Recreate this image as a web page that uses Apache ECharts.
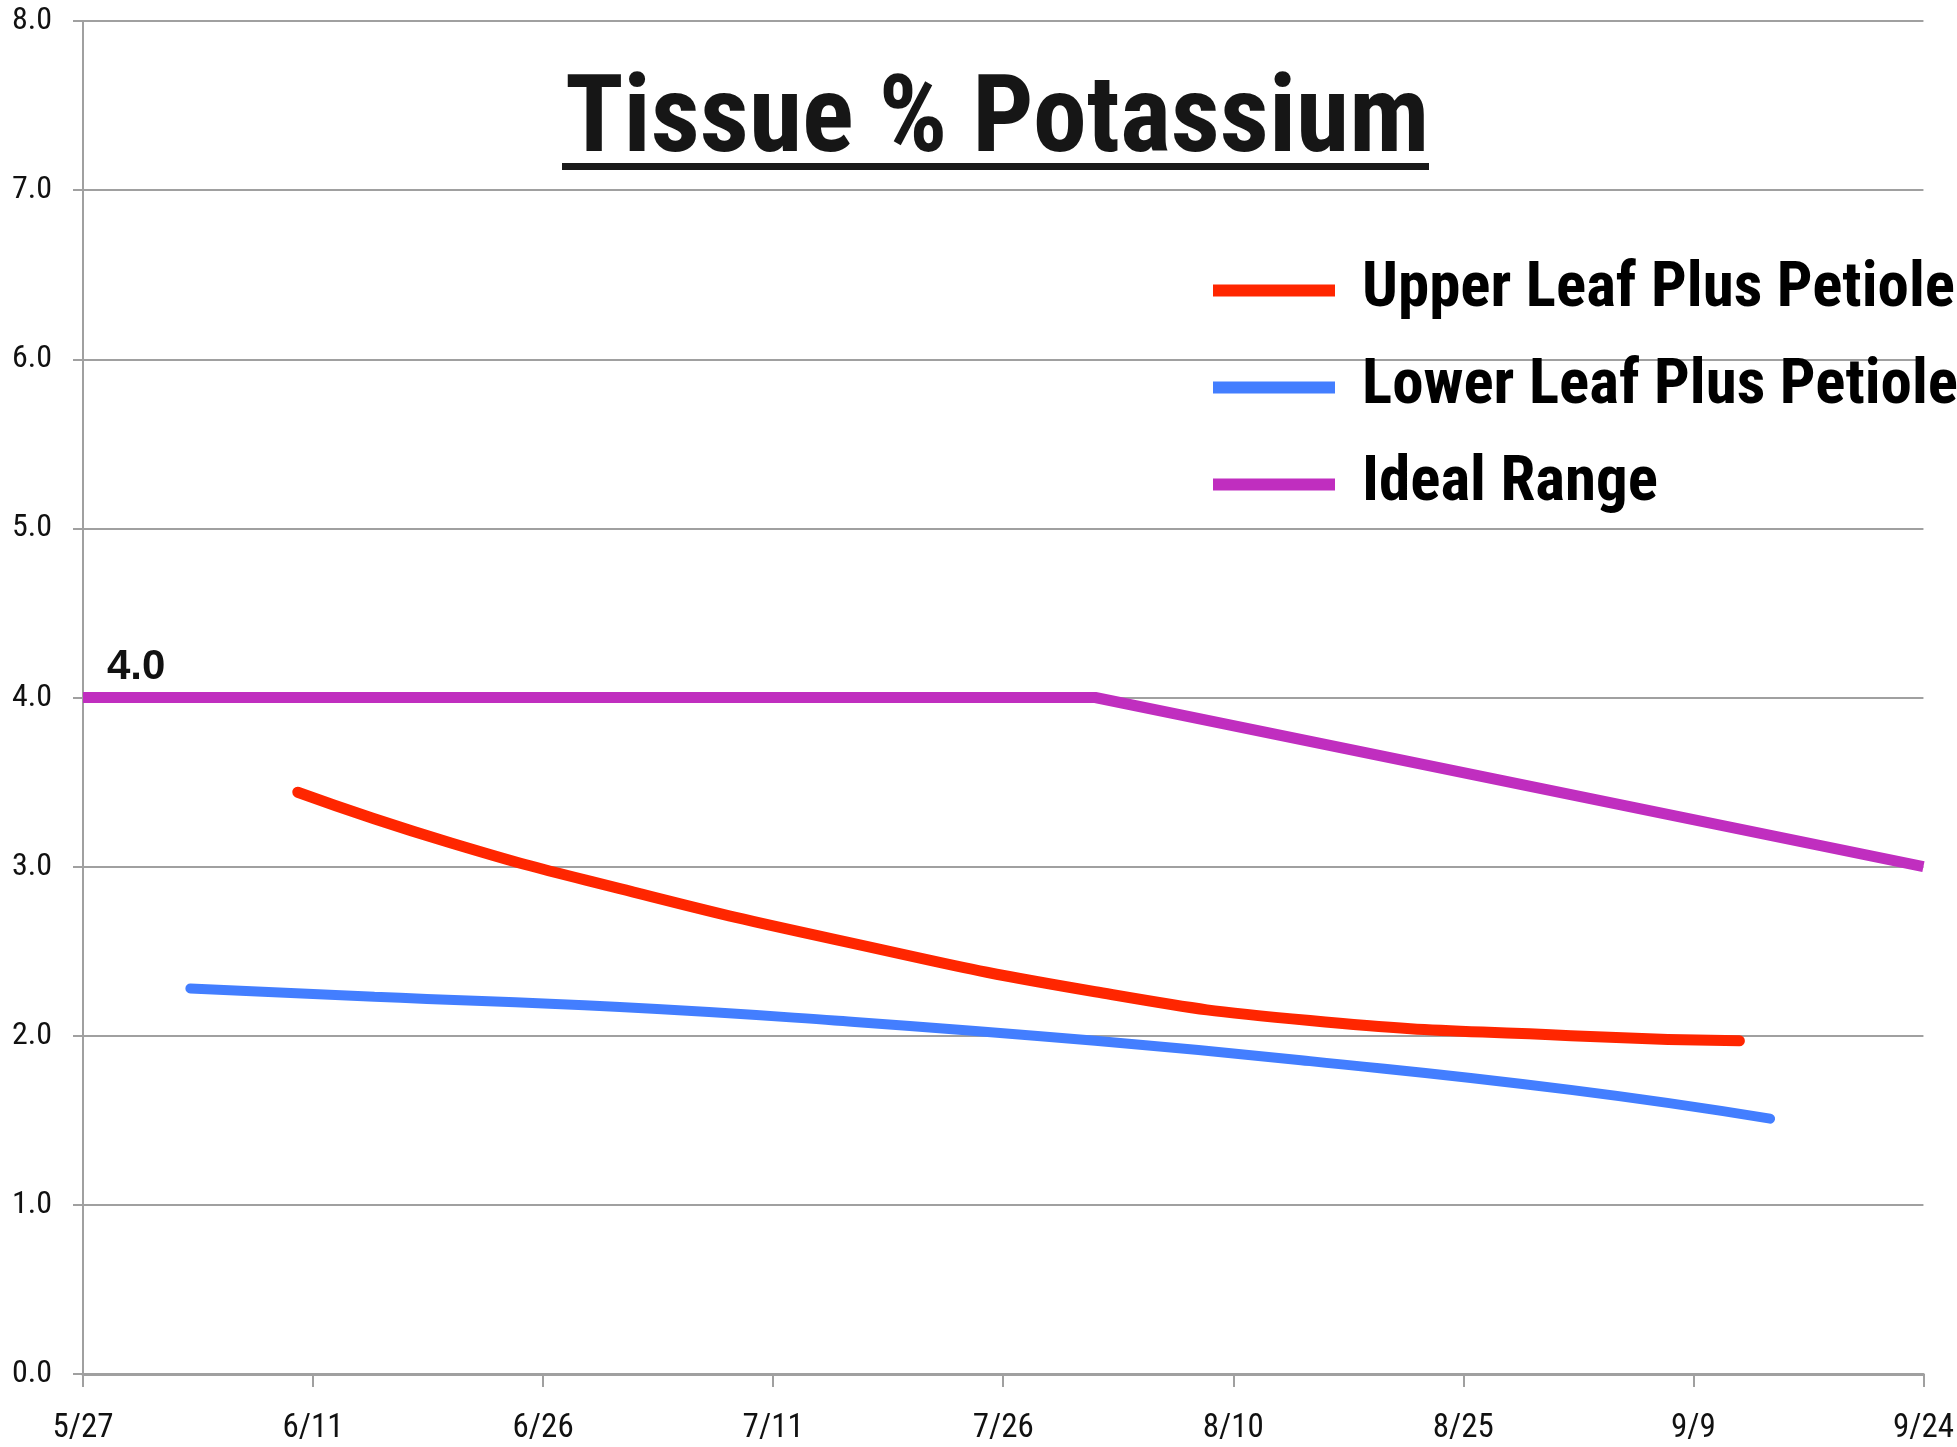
<!DOCTYPE html>
<html>
<head>
<meta charset="utf-8">
<title>Tissue % Potassium</title>
<script src="https://cdn.jsdelivr.net/npm/echarts@6/dist/echarts.min.js"></script>
<style>
  html, body { margin: 0; padding: 0; background: #fff; }
  #chart { width: 1957px; height: 1447px; }
</style>
</head>
<body>
<div id="chart"></div>
<script>
// x tick labels, every 15 days starting 5/27
const tickLabels = ["5/27", "6/11", "6/26", "7/11", "7/26", "8/10", "8/25", "9/9", "9/24"];

// Upper Leaf Plus Petiole
const upperDates = ["6/10", "6/20", "7/1", "7/15", "8/1", "8/15", "9/1", "9/12"];
const upperK = [3.44, 3.14, 2.87, 2.57, 2.26, 2.09, 2.0, 1.97];

// Lower Leaf Plus Petiole
const lowerDates = ["6/3", "6/15", "7/1", "7/15", "8/1", "8/15", "9/1", "9/14"];
const lowerK = [2.28, 2.23, 2.17, 2.09, 1.97, 1.85, 1.68, 1.51];

// Ideal Range
const idealDates = ["5/27", "8/1", "9/24"];
const idealK = [4.0, 4.0, 3.0];

const seriesNames = ["Upper Leaf Plus Petiole", "Lower Leaf Plus Petiole", "Ideal Range"];

// days since 5/27
function dayOf(md) {
  const p = md.split("/").map(Number);
  return Math.round((Date.UTC(2013, p[0] - 1, p[1]) - Date.UTC(2013, 4, 27)) / 86400000);
}
function pairs(dates, vals) {
  return dates.map((d, i) => [dayOf(d), vals[i]]);
}

const chart = echarts.init(document.getElementById("chart"));

const narrow = '"Roboto Condensed", "Liberation Sans Narrow", "DejaVu Sans Condensed", sans-serif';

const idealData = pairs(idealDates, idealK).map((v, i) => {
  if (i === 0) {
    return {
      value: v,
      label: {
        show: true,
        formatter: v[1].toFixed(1),
        position: [24, -51],
        fontFamily: '"Liberation Sans", Arial, sans-serif',
        fontWeight: "bold",
        fontSize: 42,
        color: "#111"
      }
    };
  }
  return v;
});

const option = {
  animation: false,
  backgroundColor: "#fff",
  title: {
    text: "Tissue % Potassium",
    left: 560,
    top: 65,
    textStyle: {
      fontFamily: narrow,
      fontWeight: "bold",
      fontSize: 108,
      color: "#161616"
    }
  },
  graphic: [
    {
      type: "rect",
      left: 562,
      top: 163,
      shape: { width: 867, height: 7 },
      style: { fill: "#1a1a1a" }
    }
  ],
  legend: {
    orient: "vertical",
    left: 1208,
    top: 254,
    icon: "rect",
    itemWidth: 122,
    itemHeight: 12,
    itemGap: 34,
    data: seriesNames,
    textStyle: {
      fontFamily: narrow,
      fontWeight: "bold",
      fontSize: 63,
      lineHeight: 62,
      color: "#000",
      padding: [0, 0, 0, 22]
    }
  },
  grid: {
    left: 83,
    right: 33,
    top: 21,
    bottom: 73,
    containLabel: false
  },
  xAxis: {
    type: "value",
    min: 0,
    max: 120,
    interval: 15,
    axisLine: { show: true, lineStyle: { color: "#a0a0a0", width: 3 } },
    axisTick: { show: true, length: 13, lineStyle: { color: "#a0a0a0", width: 2 } },
    splitLine: { show: false },
    axisLabel: {
      margin: 38,
      fontFamily: narrow,
      fontSize: 33,
      color: "#111",
      showMinLabel: true,
      showMaxLabel: true,
      formatter: v => tickLabels[Math.round(v / 15)]
    }
  },
  yAxis: {
    type: "value",
    min: 0,
    max: 8,
    interval: 1,
    axisLine: { show: true, lineStyle: { color: "#a0a0a0", width: 2 } },
    axisTick: { show: true, length: 10, lineStyle: { color: "#a0a0a0", width: 2 } },
    splitLine: { show: true, lineStyle: { color: "#a0a0a0", width: 2 } },
    axisLabel: {
      margin: 31,
      fontFamily: narrow,
      fontSize: 32,
      color: "#111",
      formatter: v => v.toFixed(1)
    }
  },
  series: [
    {
      name: seriesNames[0],
      type: "line",
      data: pairs(upperDates, upperK),
      smooth: 0.5,
      showSymbol: false,
      color: "#ff2600",
      lineStyle: { width: 11, color: "#ff2600", cap: "round" },
      z: 3
    },
    {
      name: seriesNames[1],
      type: "line",
      data: pairs(lowerDates, lowerK),
      smooth: 0.5,
      showSymbol: false,
      color: "#437eff",
      lineStyle: { width: 10, color: "#437eff", cap: "round" },
      z: 3
    },
    {
      name: seriesNames[2],
      type: "line",
      data: idealData,
      smooth: false,
      symbol: "circle",
      symbolSize: 0,
      showSymbol: true,
      color: "#c02ebf",
      lineStyle: { width: 11, color: "#c02ebf" },
      z: 3
    }
  ]
};

chart.setOption(option);
</script>
</body>
</html>
